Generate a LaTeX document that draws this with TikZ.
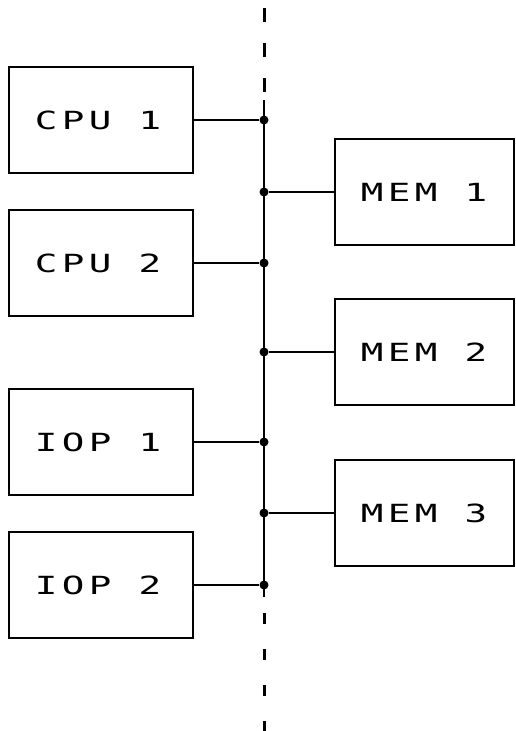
\documentclass[tikz,border=0pt]{standalone}
\usepackage{fontspec}
\usepackage{graphicx}
\newfontfamily\plotfont[LetterSpace=12]{DejaVu Sans Mono}
\begin{document}
\begin{tikzpicture}[x=1pt,y=-1pt,
  unit/.style={draw,line width=2pt,minimum height=106pt,inner sep=0pt,
    font=\plotfont\fontsize{25pt}{25pt}\selectfont},
  lunit/.style={unit,minimum width=184pt,execute at end node={\hspace{6pt}}},
  runit/.style={unit,minimum width=179pt},
  dot/.style={circle,fill,inner sep=0pt,minimum size=9pt},
  wire/.style={line width=2pt},
  busdash/.style={line width=3pt}]
\useasboundingbox (0,0) rectangle (515,731);
\newcommand{\lbl}[1]{\scalebox{1.5}[1]{#1}}
% units
\node[lunit] (cpu1) at (101,120) {\lbl{CPU 1}};
\node[lunit] (cpu2) at (101,263) {\lbl{CPU 2}};
\node[lunit] (iop1) at (101,442) {\lbl{IOP 1}};
\node[lunit] (iop2) at (101,585) {\lbl{IOP 2}};
\node[runit] (mem1) at (424,192) {\lbl{MEM 1}};
\node[runit] (mem2) at (424,352) {\lbl{MEM 2}};
\node[runit] (mem3) at (424,513) {\lbl{MEM 3}};
% junctions
\node[dot] (j1) at (264,120) {};
\node[dot] (j2) at (264,192) {};
\node[dot] (j3) at (264,263) {};
\node[dot] (j4) at (264,352) {};
\node[dot] (j5) at (264,442) {};
\node[dot] (j6) at (264,513) {};
\node[dot] (j7) at (264,585) {};
\coordinate (bt) at (264,100);
\coordinate (bb) at (264,597);
\coordinate (bend) at (264,0);
\coordinate (bfoot) at (264,731);
% bus
\draw[wire] (bt) -- (bb);
\draw[busdash,dash pattern=on 14pt off 21pt,dash phase=27pt] (bt) -- (bend);
\draw[busdash,dash pattern=on 11pt off 25pt,dash phase=20pt] (bb) -- (bfoot);
% connectors
\draw[wire] (cpu1.east) -- (j1);
\draw[wire] (cpu2.east) -- (j3);
\draw[wire] (iop1.east) -- (j5);
\draw[wire] (iop2.east) -- (j7);
\draw[wire] (j2) -- (mem1.west);
\draw[wire] (j4) -- (mem2.west);
\draw[wire] (j6) -- (mem3.west);
\end{tikzpicture}
\end{document}
